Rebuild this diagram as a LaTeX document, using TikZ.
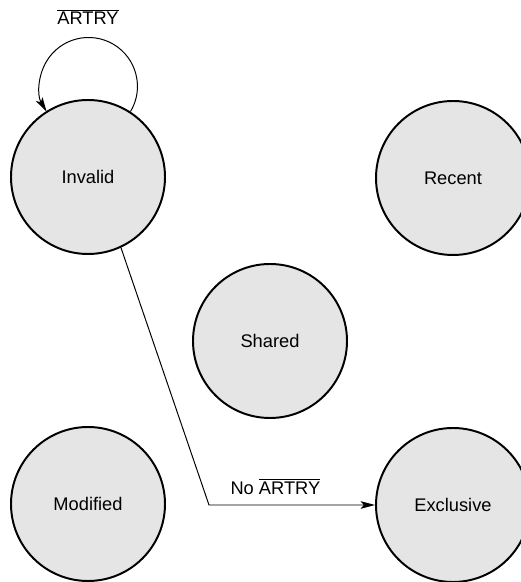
\documentclass[tikz,border=0pt]{standalone}
\usepackage{fontspec}
\setmainfont{Liberation Sans}
\usepackage{tikz}
\usetikzlibrary{positioning, arrows.meta, calc}
\definecolor{stategray}{HTML}{E5E5E5}
\tikzset{every picture/.append style={thick}}

\begin{document}
\begin{tikzpicture}[
        state/.style={circle, draw, line width=1.4pt, fill=stategray, minimum size=3.85cm, inner sep=0pt, font=\fontsize{13}{15}\selectfont},
        trans/.style={line width=0.7pt, -{Stealth[length=3.6mm, width=1.9mm, inset=0.8mm]}},
        lbl/.style={font=\fontsize{13}{15}\selectfont}]
            % Page frame
            \useasboundingbox (0,0) rectangle (13.025,14.55);
            
            % State circles
            \node[state] (Invalid) at (2.2,10.125) {Invalid};
            \node[state] (Recent) at (11.325,10.1) {Recent};
            \node[state] (Shared) at (6.75,6.025) {Shared};
            \node[state] (Modified) at (2.2,1.95) {Modified};
            \node[state] (Exclusive) at (11.325,1.925) {Exclusive};
            
            % Self loop on Invalid
            \draw[trans] (Invalid.57) arc[start angle=-31, end angle=211, radius=1.223cm];
            \node[lbl] (LoopLabel) at (2.2,14.125) {$\overline{\mbox{ARTRY}}$};
            
            % Invalid to Exclusive
            \coordinate (Bend) at (5.225,1.925);
            \draw[trans] (Invalid.-65) -- (Bend) -- node[lbl, above=4pt, pos=0.4] (NoLabel) {No $\overline{\mbox{ARTRY}}$} (Exclusive.west);
        \end{tikzpicture}
\end{document}
